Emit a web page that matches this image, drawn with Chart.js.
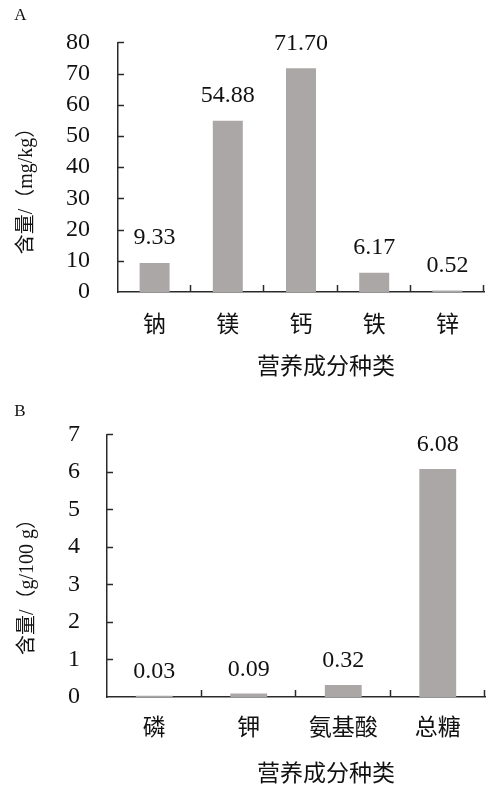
<!DOCTYPE html>
<html>
<head>
<meta charset="utf-8">
<script src="https://cdn.jsdelivr.net/npm/chart.js@4"></script>
<style>
html,body{margin:0;padding:0;background:#fff;}
#wa{position:absolute;left:0;top:0;width:490px;height:393px;}
#wb{position:absolute;left:0;top:393px;width:490px;height:394px;}
</style>
</head>
<body>
<div id="wa"><canvas id="ca"></canvas></div>
<div id="wb"><canvas id="cb"></canvas></div>
<script>
// Panel A data
const catsA = ['钠', '镁', '钙', '铁', '锌'];
const valsA = [9.33, 54.88, 71.70, 6.17, 0.52];
const ticksA = [0, 10, 20, 30, 40, 50, 60, 70, 80];
// Panel B data
const catsB = ['磷', '钾', '氨基酸', '总糖'];
const valsB = [0.03, 0.09, 0.32, 6.08];
const ticksB = [0, 1, 2, 3, 4, 5, 6, 7];

const labelsA = {panel: 'A', yTitle: '含量/（mg/kg）', xTitle: '营养成分种类'};
const labelsB = {panel: 'B', yTitle: '含量/（g/100 g）', xTitle: '营养成分种类'};

const NUM_FONT = "'Liberation Serif', 'Times New Roman', 'DejaVu Serif', 'Noto Sans CJK SC', serif";
const CJK_FONT = "'Noto Sans CJK SC', sans-serif";
const BAR = '#aba7a7';
const AXIS = '#2a2a2a';

function makeChart(id, cats, vals, tickVals, txt, cfg) {
  const fmt = v => v.toFixed(2);
  const deco = {
    id: 'deco' + id,
    afterDraw(chart) {
      const ctx = chart.ctx, ca = chart.chartArea;
      const x = chart.scales.x, y = chart.scales.y;
      ctx.save();
      ctx.strokeStyle = AXIS;
      ctx.lineWidth = 1.5;
      // inward y ticks
      y.ticks.forEach(t => {
        const py = Math.round(y.getPixelForValue(t.value)) + 0.5;
        if (t.value === 0) return;
        ctx.beginPath(); ctx.moveTo(ca.left, py); ctx.lineTo(ca.left + 6, py); ctx.stroke();
      });
      // inward x ticks at category boundaries
      const half = (x.getPixelForValue(1) - x.getPixelForValue(0)) / 2;
      cats.forEach((c, i) => {
        const px = Math.round(x.getPixelForValue(i) + half) - 0.5;
        ctx.beginPath(); ctx.moveTo(px, ca.bottom); ctx.lineTo(px, ca.bottom - 7); ctx.stroke();
      });
      // value labels
      ctx.fillStyle = '#111';
      ctx.font = '24px ' + NUM_FONT;
      ctx.textAlign = 'center';
      ctx.textBaseline = 'middle';
      chart.getDatasetMeta(0).data.forEach((bar, i) => {
        const p = bar.getProps(['x', 'y'], true);
        ctx.fillText(fmt(vals[i]), p.x, p.y - cfg.valOff);
      });
      // panel letter
      ctx.font = '17px ' + NUM_FONT;
      ctx.fillText(txt.panel, cfg.letter[0], cfg.letter[1]);
      // x title
      ctx.font = '23px ' + CJK_FONT;
      ctx.fillText(txt.xTitle, cfg.xTitle[0], cfg.xTitle[1]);
      // y title
      ctx.save();
      ctx.translate(cfg.yTitle[0], cfg.yTitle[1]);
      ctx.rotate(-Math.PI / 2);
      ctx.font = '20px ' + NUM_FONT;
      ctx.fillText(txt.yTitle, 0, 0);
      ctx.restore();
      ctx.restore();
    }
  };
  return new Chart(document.getElementById(id), {
    type: 'bar',
    data: {
      labels: cats,
      datasets: [{data: vals, backgroundColor: BAR, borderWidth: 0,
        categoryPercentage: 1, barPercentage: cfg.barPct}]
    },
    options: {
      responsive: true, maintainAspectRatio: false, animation: false,
      layout: {padding: {left: 0, top: cfg.top, right: cfg.right, bottom: 0}},
      plugins: {legend: {display: false}, tooltip: {enabled: false}},
      scales: {
        x: {
          grid: {display: false, drawTicks: false},
          border: {display: true, color: AXIS, width: 1.5},
          ticks: {color: '#111', font: {family: CJK_FONT, size: 23}, padding: cfg.xPad, maxRotation: 0, autoSkip: false},
          afterFit(s) { s.height = cfg.xH; }
        },
        y: {
          min: tickVals[0], max: tickVals[tickVals.length - 1],
          afterBuildTicks(s) { s.ticks = tickVals.map(v => ({value: v})); },
          grid: {display: false, drawTicks: false},
          border: {display: true, color: AXIS, width: 1.5},
          ticks: {color: '#111', font: {family: NUM_FONT, size: 24}, padding: cfg.yPad, autoSkip: false},
          afterFit(s) { s.width = cfg.yW; }
        }
      }
    },
    plugins: [deco]
  });
}

makeChart('ca', catsA, valsA, ticksA, labelsA, {
  barPct: 0.41, top: 33, right: 6, xH: 101, yW: 118, xPad: 17, yPad: 28, valOff: 25,
  letter: [20.5, 16], xTitle: [326, 365], yTitle: [27, 186]
});
makeChart('cb', catsB, valsB, ticksB, labelsB, {
  barPct: 0.39, top: 28, right: 5, xH: 90, yW: 107, xPad: 15, yPad: 27, valOff: 24,
  letter: [20, 18.5], xTitle: [326, 379], yTitle: [27.5, 189]
});
</script>
</body>
</html>
